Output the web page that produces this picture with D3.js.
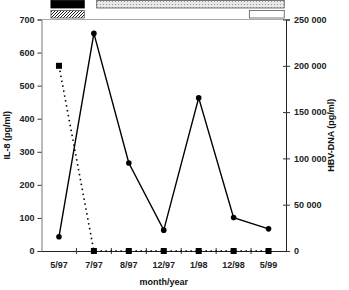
<!DOCTYPE html>
<html><head><meta charset="utf-8">
<script src="https://cdn.jsdelivr.net/npm/d3@7"></script>
<style>body{margin:0;background:#fff}svg{display:block;font-family:"Liberation Sans",Arial,sans-serif;font-weight:bold}</style>
</head><body><svg id="c" width="349" height="290"></svg>
<script>
const categories = ["5/97","7/97","8/97","12/97","1/98","12/98","5/99"];
const il8 = [43, 658, 266, 63, 463, 101, 67];
const hbv = [200000, 0, 0, 0, 0, 0, 0];
const leftTicks = [0,100,200,300,400,500,600,700];
const rightTicks = [0,50000,100000,150000,200000,250000];
// treatment bars: [startIndex, endIndex, row, fill]
const treatStart = [-0.23, 1.08, -0.23, 5.45];
const treatEnd   = [0.725, 6.45, 0.725, 6.45];
const treatRow   = [0, 0, 1, 1];
const treatFill  = ["black", "dots", "hatch", "white"];

const svg = d3.select("#c");
const L = 41.5, R = 286, T = 19.5, B = 251;
const x = d3.scaleBand().domain(categories).range([L, R]).padding(0);
const step = x.step();
const xi = d3.scaleLinear().domain([0, 1]).range([x(categories[0]) + step/2, x(categories[0]) + step*1.5]);
const yL = d3.scaleLinear().domain([0, 700]).range([B, T]);
const yR = d3.scaleLinear().domain([0, 250000]).range([B, T]);
const cx = d => x(d) + step/2;

const defs = svg.append("defs");
const ph = defs.append("pattern").attr("id","hatch").attr("patternUnits","userSpaceOnUse").attr("width",3).attr("height",3);
ph.append("rect").attr("width",3).attr("height",3).attr("fill","#fff");
ph.append("path").attr("d","M-1,1 l2,-2 M0,3 l3,-3 M2,4 l2,-2").attr("stroke","#000").attr("stroke-width",0.9);
const pd = defs.append("pattern").attr("id","dots").attr("patternUnits","userSpaceOnUse").attr("width",3).attr("height",3);
pd.append("rect").attr("width",3).attr("height",3).attr("fill","#e8e8e8");
pd.append("rect").attr("x",1).attr("y",1).attr("width",1).attr("height",1).attr("fill","#999");

// top frame line
svg.append("line").attr("x1",L).attr("x2",R).attr("y1",T).attr("y2",T).attr("stroke","#aaa").attr("stroke-width",1);

// treatment bars
const rowY = [0.5, 10.5], rowH = 7.5;
treatStart.forEach((s,i)=>{
  const f = treatFill[i];
  svg.append("rect").attr("x", xi(s)).attr("y", rowY[treatRow[i]])
    .attr("width", xi(treatEnd[i]) - xi(s)).attr("height", rowH)
    .attr("fill", f==="black" ? "#000" : f==="white" ? "#fff" : `url(#${f})`)
    .attr("stroke", f==="black" ? "#000" : "#555").attr("stroke-width", 0.8);
});

const fs = 9;
// left axis
const la = svg.append("g").attr("transform",`translate(${L},0)`)
  .call(d3.axisLeft(yL).tickValues(leftTicks).tickSize(4).tickPadding(3));
la.select(".domain").attr("stroke","#777");
la.selectAll(".tick line").attr("stroke","#333");
la.selectAll("text").attr("font-size",fs).attr("font-family","Liberation Sans, Arial").attr("font-weight","bold").attr("fill","#222");

// right axis
const fmt = v => d3.format(",")(v).replace(/,/g," ");
const ra = svg.append("g").attr("transform",`translate(${R},0)`)
  .call(d3.axisRight(yR).tickValues(rightTicks).tickSize(4).tickPadding(4).tickFormat(fmt));
ra.select(".domain").attr("stroke","#222");
ra.selectAll(".tick line").attr("x1",-3).attr("stroke","#333");
ra.selectAll("text").attr("font-size",fs).attr("font-family","Liberation Sans, Arial").attr("font-weight","bold").attr("fill","#222");

// bottom axis
const ba = svg.append("g").attr("transform",`translate(0,${B})`)
  .call(d3.axisBottom(x).tickSize(0).tickPadding(11));
ba.select(".domain").attr("stroke","#222");
ba.selectAll("text").attr("font-size",fs).attr("font-family","Liberation Sans, Arial").attr("font-weight","bold").attr("fill","#222");
categories.slice(1).forEach(c=>{
  svg.append("line").attr("x1",x(c)).attr("x2",x(c)).attr("y1",B-3).attr("y2",B+3).attr("stroke","#333");
});

// HBV dashed line + squares
svg.append("path").datum(hbv)
  .attr("d", d3.line().x((d,i)=>cx(categories[i])).y(d=>yR(d)))
  .attr("fill","none").attr("stroke","#000").attr("stroke-width",1.6).attr("stroke-dasharray","1.5,3.5");
svg.selectAll(".sq").data(hbv).enter().append("rect")
  .attr("x",(d,i)=>cx(categories[i])-3).attr("y",d=>yR(d)-3).attr("width",6).attr("height",6).attr("fill","#000");

// IL-8 solid line + circles
svg.append("path").datum(il8)
  .attr("d", d3.line().x((d,i)=>cx(categories[i])).y(d=>yL(d)))
  .attr("fill","none").attr("stroke","#000").attr("stroke-width",1.4);
svg.selectAll(".ci").data(il8).enter().append("circle")
  .attr("cx",(d,i)=>cx(categories[i])).attr("cy",d=>yL(d)).attr("r",2.8).attr("fill","#000");

// axis titles
svg.append("text").attr("transform",`translate(10,${(T+B)/2}) rotate(-90)`).attr("text-anchor","middle")
  .attr("font-size",9).attr("fill","#111").text("IL-8 (pg/ml)");
svg.append("text").attr("transform",`translate(334,${(T+B)/2}) rotate(-90)`).attr("text-anchor","middle")
  .attr("font-size",9).attr("fill","#111").text("HBV-DNA (pg/ml)");
svg.append("text").attr("x",(L+R)/2).attr("y",285).attr("text-anchor","middle")
  .attr("font-size",9).attr("fill","#111").text("month/year");
</script></body></html>
